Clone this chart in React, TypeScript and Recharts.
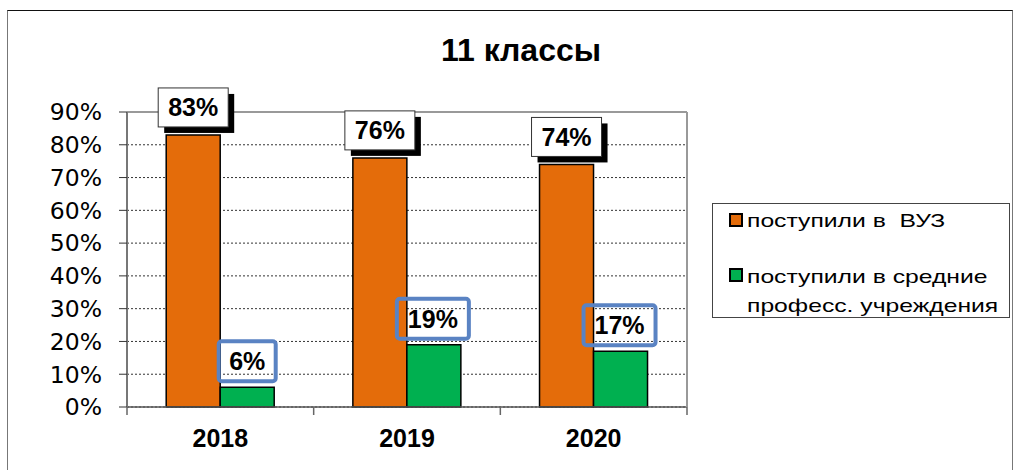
import React from "react";
import { BarChart, Bar, XAxis, YAxis, CartesianGrid, LabelList, ReferenceLine } from "recharts";

const years = ["2018", "2019", "2020"];
const vuzValues = [83, 76, 74];
const spoValues = [6, 19, 17];
const yTicks = [0, 10, 20, 30, 40, 50, 60, 70, 80, 90];
const title = "11 классы";
const vuzName = "поступили в  ВУЗ";
const spoName = "поступили в средние професс. учреждения";

const data = years.map((y, i) => ({ year: y, vuz: vuzValues[i], spo: spoValues[i] }));

const FONT = "'Liberation Sans', Arial, sans-serif";
const ORANGE = "#E46C0A";
const GREEN = "#00B050";

const OrangeLabel = (props: any) => {
  const { x, y, width, value } = props;
  const w = 70;
  const h = 39;
  const cx = x + width / 2;
  const bx = cx - w / 2;
  const by = y - 8 - h;
  return (
    <g>
      <rect x={bx + 6} y={by + 6} width={w} height={h} fill="#000" />
      <rect x={bx} y={by} width={w} height={h} fill="#fff" stroke="#333" strokeWidth={1} />
      <text x={cx} y={by + h / 2 + 9} textAnchor="middle" fontFamily={FONT} fontWeight="bold" fontSize={25} fill="#000">
        {value}%
      </text>
    </g>
  );
};

const GreenLabel = (props: any) => {
  const { x, y, width, value } = props;
  const w = String(value).length > 1 ? 72 : 57;
  const h = 40;
  const cx = x + width / 2 - (String(value).length > 1 ? 1 : 0);
  const bx = cx - w / 2;
  const by = y - 6 - h;
  return (
    <g>
      <rect x={bx} y={by} width={w} height={h} rx={3} fill="none" stroke="#5A83C3" strokeWidth={4} />
      <text x={cx} y={by + h / 2 + 9} textAnchor="middle" fontFamily={FONT} fontWeight="bold" fontSize={25} fill="#000">
        {value}%
      </text>
    </g>
  );
};

const XTick = (props: any) => {
  const { x, y, payload, index } = props;
  const off = payload.offset || 0;
  return (
    <g>
      <line x1={x - off} y1={y - 8} x2={x - off} y2={y} stroke="#666" strokeWidth={1.5} />
      {index === years.length - 1 && (
        <line x1={x + off} y1={y - 8} x2={x + off} y2={y} stroke="#666" strokeWidth={1.5} />
      )}
      <text x={x} y={y + 32} textAnchor="middle" fontFamily={FONT} fontWeight="bold" fontSize={25} fill="#000">
        {payload.value}
      </text>
    </g>
  );
};

const LegendBox = () => (
  <div
    style={{
      position: "absolute",
      left: 712,
      top: 203,
      width: 298,
      height: 115,
      border: "1px solid #444",
      background: "#fff",
      fontFamily: FONT,
      fontSize: 19,
      color: "#000",
      boxSizing: "border-box",
    }}
  >
    <div style={{ position: "absolute", left: 16, top: 9, width: 10, height: 10, background: ORANGE, border: "2px solid #000" }} />
    <div
      style={{
        position: "absolute",
        left: 34,
        top: 2,
        whiteSpace: "pre",
        lineHeight: "29px",
        transform: "scaleX(1.3)",
        transformOrigin: "left top",
      }}
    >
      {vuzName}
    </div>
    <div style={{ position: "absolute", left: 16, top: 64, width: 10, height: 10, background: GREEN, border: "2px solid #000" }} />
    <div
      style={{
        position: "absolute",
        left: 34,
        top: 58,
        width: 200,
        lineHeight: "29px",
        transform: "scaleX(1.3)",
        transformOrigin: "left top",
      }}
    >
      {spoName}
    </div>
  </div>
);

export default function App() {
  return (
    <div style={{ position: "absolute", left: 0, top: 0, width: 1014, height: 470, background: "#fff", overflow: "hidden" }}>
      <div
        style={{
          position: "absolute",
          left: 7,
          top: 10,
          width: 1004,
          height: 480,
          borderTop: "1.5px solid #111",
          borderLeft: "1.5px solid #777",
          borderRight: "1.5px solid #777",
        }}
      />
      <div
        style={{
          position: "absolute",
          left: 0,
          top: 32,
          width: 1042,
          textAlign: "center",
          fontFamily: FONT,
          fontWeight: "bold",
          fontSize: 32,
          lineHeight: "36px",
        }}
      >
        {title}
      </div>
      <div style={{ position: "absolute", left: 0, top: 0 }}>
        <BarChart
          width={1014}
          height={470}
          data={data}
          margin={{ top: 112, right: 326, bottom: 0, left: 0 }}
          barGap={0}
          barCategoryGap="21%"
        >
          <CartesianGrid vertical={false} stroke="#333" strokeDasharray="2 2" />
          <ReferenceLine y={90} stroke="#999" strokeWidth={2} />
          <XAxis
            dataKey="year"
            tickLine={false}
            tickSize={8}
            tickMargin={0}
            axisLine={{ stroke: "#555", strokeWidth: 1.5 }}
            tick={<XTick />}
            interval={0}
            height={63}
          />
          <YAxis
            domain={[0, 90]}
            ticks={yTicks}
            width={127}
            tickSize={8}
            tickMargin={17}
            tickFormatter={(v: number) => `${v}%`}
            tick={{ fontFamily: "'DejaVu Sans', sans-serif", fontSize: 23.5, fill: "#000" }}
            axisLine={{ stroke: "#777", strokeWidth: 2 }}
            tickLine={{ stroke: "#333" }}
            interval={0}
          />
          <YAxis
            yAxisId="r"
            orientation="right"
            width={1}
            tick={false}
            tickLine={false}
            axisLine={{ stroke: "#999", strokeWidth: 2 }}
          />
          <Bar dataKey="vuz" name={vuzName} fill={ORANGE} stroke="#000" strokeWidth={1.5} isAnimationActive={false}>
            <LabelList dataKey="vuz" content={<OrangeLabel />} />
          </Bar>
          <Bar dataKey="spo" name={spoName} fill={GREEN} stroke="#000" strokeWidth={1.5} isAnimationActive={false}>
            <LabelList dataKey="spo" content={<GreenLabel />} />
          </Bar>
        </BarChart>
      </div>
      <LegendBox />
    </div>
  );
}
